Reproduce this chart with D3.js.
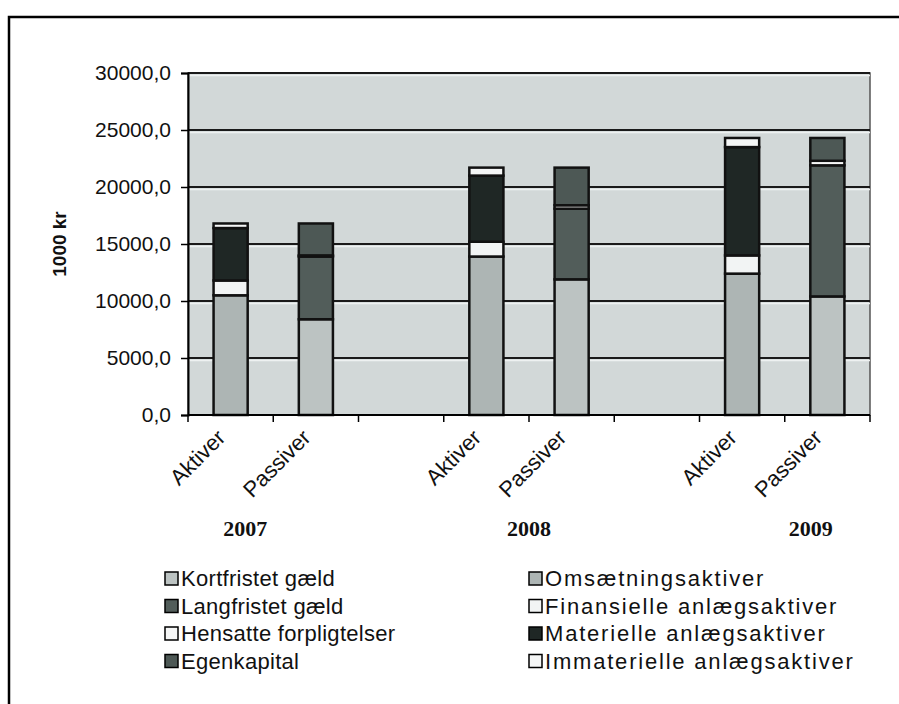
<!DOCTYPE html>
<html lang="da">
<head>
    <meta charset="UTF-8">
    <title>Aktiver og passiver 2007-2009</title>
    <script src="https://d3js.org/d3.v7.min.js"></script>
    <style>
        body { margin: 0; background: #fff; }
        text { font-family: "Liberation Sans", Arial, sans-serif; fill: #111; }
        .year { font-family: "Liberation Serif", "Times New Roman", serif; font-weight: bold; }
    </style>
</head>
<body>
    <script>
        // values (1000 kr)
        const years = ["2007", "2008", "2009"];
        const sides = ["Aktiver", "Passiver"];

        // assets (Aktiver bars), bottom to top
        const omsaetning = [10500, 13900, 12400];
        const finansielle = [1300, 1300, 1600];
        const materielle = [4600, 5800, 9500];
        const immaterielle = [400, 700, 800];

        // liabilities (Passiver bars), bottom to top
        const kortfristet = [8400, 11900, 10400];
        const langfristet = [5500, 6200, 11500];
        const hensatte = [100, 300, 400];
        const egenkapital = [2800, 3300, 2000];

        const yTicks = [0, 5000, 10000, 15000, 20000, 25000, 30000];

        const series = [
            { name: "Kortfristet gæld", side: "Passiver", values: kortfristet, color: "#bcc3c2" },
            { name: "Omsætningsaktiver", side: "Aktiver", values: omsaetning, color: "#adb5b4" },
            { name: "Langfristet gæld", side: "Passiver", values: langfristet, color: "#525d5a" },
            { name: "Finansielle anlægsaktiver", side: "Aktiver", values: finansielle, color: "#f2f4f4" },
            { name: "Hensatte forpligtelser", side: "Passiver", values: hensatte, color: "#f5f6f6" },
            { name: "Materielle anlægsaktiver", side: "Aktiver", values: materielle, color: "#1f2725" },
            { name: "Egenkapital", side: "Passiver", values: egenkapital, color: "#4d5855" },
            { name: "Immaterielle anlægsaktiver", side: "Aktiver", values: immaterielle, color: "#f5f6f6" }
        ];

        const width = 899, height = 704;
        const svg = d3.select("body").append("svg")
            .attr("width", width)
            .attr("height", height);

        // outer frame (top + left edge of the scanned box)
        svg.append("path")
            .attr("d", `M9,${height} V17 H${width}`)
            .attr("fill", "none")
            .attr("stroke", "#000")
            .attr("stroke-width", 2.5);

        const plot = { left: 188, right: 870, top: 73, bottom: 415 };

        // 8 slots: Aktiver, Passiver, gap per year
        const slots = [];
        years.forEach((yr, i) => {
            sides.forEach(s => slots.push({ key: s + yr, label: s, year: yr, side: s, yi: i }));
            if (i < years.length - 1) slots.push({ key: "gap" + yr, label: "", year: yr, side: null, yi: i });
        });

        const x = d3.scaleBand()
            .domain(slots.map(d => d.key))
            .range([plot.left, plot.right])
            .paddingInner(0.6)
            .paddingOuter(0.3);

        const y = d3.scaleLinear()
            .domain([0, 30000])
            .range([plot.bottom, plot.top]);

        // plot background
        svg.append("rect")
            .attr("x", plot.left)
            .attr("y", plot.top)
            .attr("width", plot.right - plot.left)
            .attr("height", plot.bottom - plot.top)
            .attr("fill", "#d2d8d8")
            .attr("stroke", "#555")
            .attr("stroke-width", 1.5);

        // gridlines
        const grid = svg.append("g");
        grid.selectAll("line.hl")
            .data(yTicks.filter(d => d > 0))
            .enter().append("line")
            .attr("class", "hl")
            .attr("x1", plot.left).attr("x2", plot.right)
            .attr("y1", d => y(d) + 2.5).attr("y2", d => y(d) + 2.5)
            .attr("stroke", "#eef1f1")
            .attr("stroke-width", 1.5);
        grid.selectAll("line.gl")
            .data(yTicks.filter(d => d > 0))
            .enter().append("line")
            .attr("class", "gl")
            .attr("x1", plot.left).attr("x2", plot.right)
            .attr("y1", d => y(d)).attr("y2", d => y(d))
            .attr("stroke", "#1a1a1a")
            .attr("stroke-width", 2);

        // stacked bars
        const segs = [];
        slots.filter(s => s.side).forEach(s => {
            let acc = 0;
            series.filter(se => se.side === s.side).forEach(se => {
                const v = se.values[s.yi];
                segs.push({ slot: s.key, y0: acc, y1: acc + v, color: se.color });
                acc += v;
            });
        });

        svg.append("g")
            .selectAll("rect")
            .data(segs)
            .enter().append("rect")
            .attr("x", d => x(d.slot))
            .attr("y", d => y(d.y1))
            .attr("width", x.bandwidth())
            .attr("height", d => y(d.y0) - y(d.y1))
            .attr("fill", d => d.color)
            .attr("stroke", "#111")
            .attr("stroke-width", 2.5);

        // y axis
        const fmt = d3.formatLocale({ decimal: ",", thousands: ".", grouping: [3], currency: ["", " kr"] }).format(".1f");
        const yAxis = svg.append("g")
            .attr("transform", `translate(${plot.left},0)`)
            .call(d3.axisLeft(y).tickValues(yTicks).tickFormat(fmt).tickSize(7).tickPadding(10));
        yAxis.select(".domain").attr("stroke", "#000").attr("stroke-width", 2);
        yAxis.selectAll(".tick line").attr("stroke", "#000").attr("stroke-width", 1.5);
        yAxis.selectAll(".tick text")
            .style("font-family", "'Liberation Sans', Arial, sans-serif")
            .style("font-size", "21px")
            .attr("fill", "#111");

        svg.append("text")
            .attr("transform", `translate(66,${(plot.top + plot.bottom) / 2}) rotate(-90)`)
            .attr("text-anchor", "middle")
            .style("font-size", "19px")
            .style("font-weight", "bold")
            .text("1000 kr");

        // x axis: line + ticks at slot boundaries
        const step = x.step();
        const xAxis = svg.append("g");
        xAxis.append("line")
            .attr("x1", plot.left).attr("x2", plot.right)
            .attr("y1", plot.bottom).attr("y2", plot.bottom)
            .attr("stroke", "#000").attr("stroke-width", 2);
        xAxis.selectAll("line.tk")
            .data(slots.map(s => x(s.key) - step * x.paddingInner() / 2).concat([plot.right]))
            .enter().append("line")
            .attr("class", "tk")
            .attr("x1", d => d).attr("x2", d => d)
            .attr("y1", plot.bottom).attr("y2", plot.bottom + 7)
            .attr("stroke", "#000").attr("stroke-width", 1.5);

        xAxis.selectAll("text.cat")
            .data(slots.filter(s => s.label))
            .enter().append("text")
            .attr("class", "cat")
            .attr("transform", d => `translate(${x(d.key) + x.bandwidth() / 2 - 4},${plot.bottom + 24}) rotate(-45)`)
            .attr("text-anchor", "end")
            .style("font-size", "22px")
            .text(d => d.label);

        // year captions under each pair
        const yearShift = [-28, 0, 26];
        svg.selectAll("text.year")
            .data(years)
            .enter().append("text")
            .attr("class", "year")
            .attr("x", (d, i) => (x("Aktiver" + d) + x("Passiver" + d) + x.bandwidth()) / 2 + yearShift[i])
            .attr("y", 536)
            .attr("text-anchor", "middle")
            .style("font-size", "22px")
            .text(d => d);

        // legend: two columns, 4 rows
        const legendCols = [
            series.filter(s => s.side === "Passiver"),
            series.filter(s => s.side === "Aktiver")
        ];
        const colX = [165, 529], colSpacing = [0.3, 1.8], rowY0 = 578, rowH = 27.5;
        legendCols.forEach((col, ci) => {
            const g = svg.append("g").attr("transform", `translate(${colX[ci]},${rowY0})`);
            const item = g.selectAll("g")
                .data(col)
                .enter().append("g")
                .attr("transform", (d, i) => `translate(0,${i * rowH})`);
            item.append("rect")
                .attr("x", 0).attr("y", -6)
                .attr("width", 13).attr("height", 13)
                .attr("fill", d => d.color)
                .attr("stroke", "#000")
                .attr("stroke-width", 1.5);
            item.append("text")
                .attr("x", 16)
                .attr("y", 8)
                .style("font-size", "22px")
                .style("letter-spacing", colSpacing[ci] + "px")
                .text(d => d.name);
        });
    </script>
</body>
</html>
